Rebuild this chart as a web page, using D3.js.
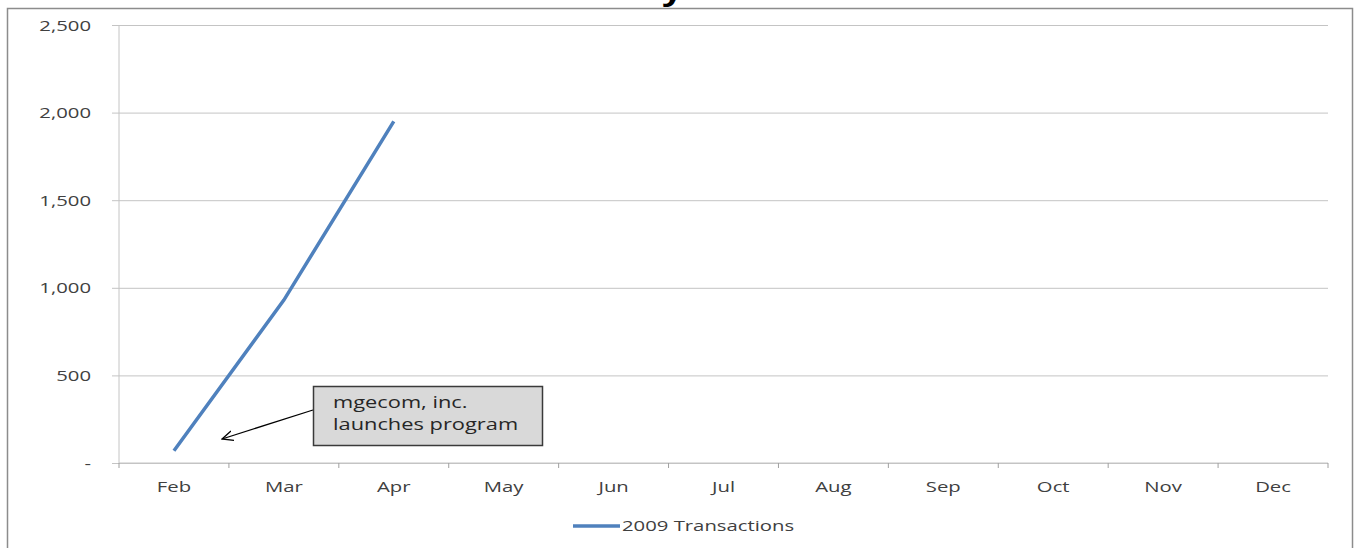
<!DOCTYPE html>
<html>
<head>
<meta charset="utf-8">
<script src="https://cdn.jsdelivr.net/npm/d3@7"></script>
<style>
  body { margin: 0; background: #fff; }
  text { font-family: "Open Sans", sans-serif; }
</style>
</head>
<body>
<div id="chart"></div>
<script>
const months = ["Feb", "Mar", "Apr", "May", "Jun", "Jul", "Aug", "Sep", "Oct", "Nov", "Dec"];
const transactions = [70, 930, 1950];
const yTicks = [0, 500, 1000, 1500, 2000, 2500];
const seriesName = "2009 Transactions";
const noteLines = ["mgecom, inc.", "launches program"];

const W = 1354, H = 548;
const SX = 1.4; // the picture is stretched sideways
const margin = { left: 119, right: 26, top: 25, bottom: 85 };
const lineColor = "#4f81bd";

const svg = d3.select("#chart").append("svg")
  .attr("width", W).attr("height", H);

// frame and cut-off title
svg.append("rect")
  .attr("x", 7.5).attr("y", 8.5)
  .attr("width", 1345).attr("height", 560)
  .attr("fill", "#fff").attr("stroke", "#8c8c8c").attr("stroke-width", 1.5);

svg.append("text")
  .attr("transform", `translate(662,1) scale(${SX},1)`)
  .attr("font-size", 26).attr("font-weight", "bold").attr("fill", "#000")
  .text("y");

const x = d3.scaleBand()
  .domain(months)
  .range([margin.left, W - margin.right]);

const y = d3.scaleLinear()
  .domain([0, 2500])
  .range([H - margin.bottom, margin.top]);

// gridlines + y ticks
const yAxis = svg.append("g")
  .attr("transform", `translate(${margin.left},0)`)
  .call(d3.axisLeft(y).tickValues(yTicks).tickSize(-(W - margin.right - margin.left)).tickFormat(""))
  .call(g => g.select(".domain").remove())
  .call(g => g.selectAll(".tick line").attr("stroke", "#c4c4c4").attr("x1", -7));

yAxis.selectAll(".tick").append("text")
  .attr("transform", `translate(-28,5) scale(${SX},1)`)
  .attr("text-anchor", "end")
  .attr("font-size", 14.5).attr("fill", "#404040")
  .text(d => d === 0 ? "-" : d3.format(",")(d));

// y axis line
svg.append("line")
  .attr("x1", margin.left).attr("x2", margin.left)
  .attr("y1", y(2500)).attr("y2", y(0))
  .attr("stroke", "#c4c4c4");

// x axis
const xAxis = svg.append("g")
  .attr("transform", `translate(0,${y(0)})`);
xAxis.append("line")
  .attr("x1", margin.left).attr("x2", W - margin.right)
  .attr("stroke", "#c4c4c4");
xAxis.selectAll(".xtick")
  .data(months.concat(["end"]))
  .enter().append("line")
  .attr("x1", (d, i) => margin.left + i * x.bandwidth())
  .attr("x2", (d, i) => margin.left + i * x.bandwidth())
  .attr("y1", 0).attr("y2", 5)
  .attr("stroke", "#a0a0a0");
xAxis.selectAll(".xlabel")
  .data(months)
  .enter().append("text")
  .attr("transform", d => `translate(${x(d) + x.bandwidth() / 2},29) scale(${SX},1)`)
  .attr("text-anchor", "middle")
  .attr("font-size", 14.5).attr("fill", "#404040")
  .text(d => d);

// series line
const line = d3.line()
  .x((d, i) => x(months[i]) + x.bandwidth() / 2)
  .y(d => y(d));

svg.append("path")
  .datum(transactions)
  .attr("d", line)
  .attr("fill", "none")
  .attr("stroke", lineColor)
  .attr("stroke-width", 3.5);

// annotation
svg.append("defs").append("marker")
  .attr("id", "arrow")
  .attr("viewBox", "0 0 12 12")
  .attr("refX", 11).attr("refY", 6)
  .attr("markerWidth", 12).attr("markerHeight", 12)
  .attr("markerUnits", "userSpaceOnUse")
  .attr("orient", "auto")
  .append("path")
  .attr("d", "M0,1 L11,6 L0,11")
  .attr("fill", "none").attr("stroke", "#000").attr("stroke-width", 1.3);

svg.append("line")
  .attr("x1", 313).attr("y1", 410)
  .attr("x2", 222).attr("y2", 439)
  .attr("stroke", "#000").attr("stroke-width", 1.3)
  .attr("marker-end", "url(#arrow)");

svg.append("rect")
  .attr("x", 313.5).attr("y", 386.5)
  .attr("width", 229).attr("height", 59)
  .attr("fill", "#d9d9d9").attr("stroke", "#3a3a3a").attr("stroke-width", 1.5);

svg.selectAll(".note")
  .data(noteLines)
  .enter().append("text")
  .attr("transform", (d, i) => `translate(333,${408 + i * 22}) scale(${SX},1)`)
  .attr("font-size", 15.6).attr("fill", "#262626")
  .text(d => d);

// legend
svg.append("line")
  .attr("x1", 573).attr("x2", 620)
  .attr("y1", 526).attr("y2", 526)
  .attr("stroke", lineColor).attr("stroke-width", 3.5);
svg.append("text")
  .attr("transform", `translate(622,531) scale(${SX},1)`)
  .attr("font-size", 14.5).attr("fill", "#404040")
  .text(seriesName);
</script>
</body>
</html>
